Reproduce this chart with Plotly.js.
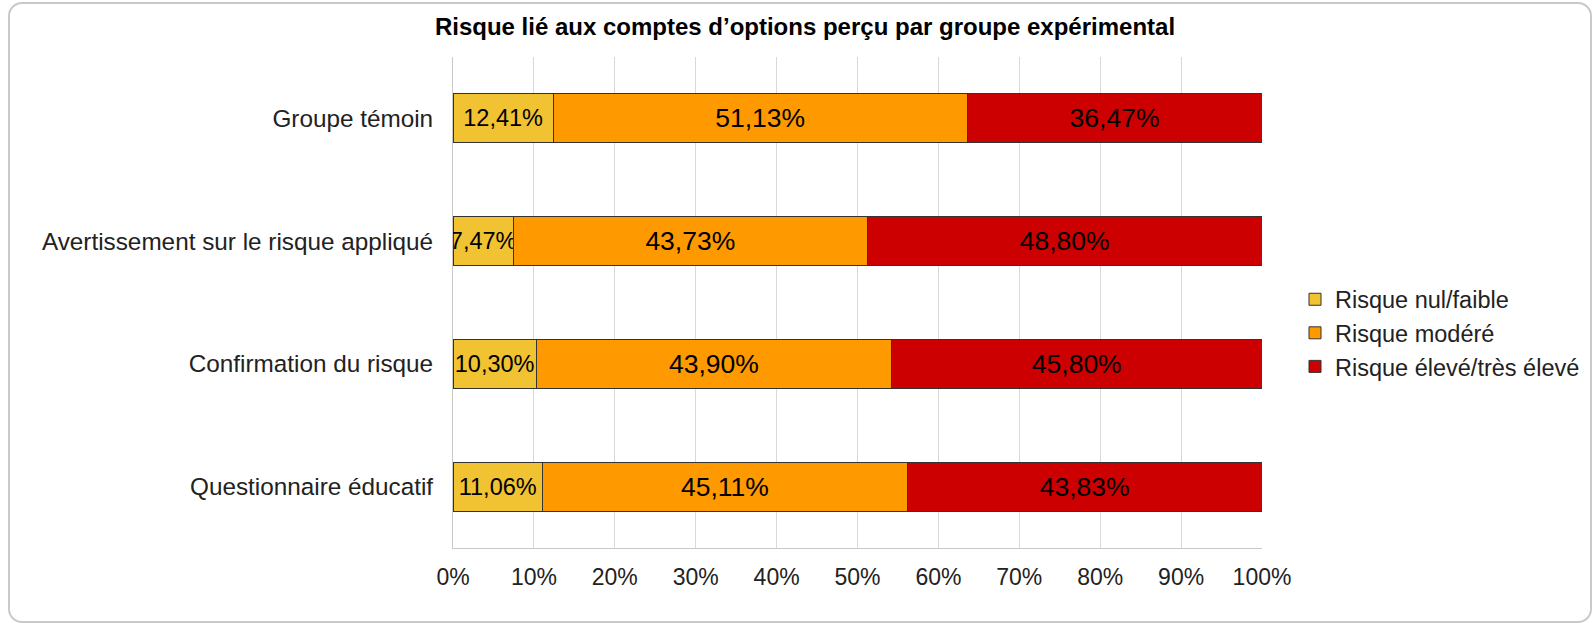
<!DOCTYPE html>
<html>
<head>
<meta charset="utf-8">
<script src="https://cdn.plot.ly/plotly-3.0.1.min.js"></script>
<style>
	body { margin: 0; background: #fff; }
	#wrap { position: relative; width: 1594px; height: 623px; }
	#chart { width: 1594px; height: 623px; }
	#frame {
		position: absolute; left: 8px; top: 2px; width: 1580px; height: 617px;
		border: 2px solid #c9c9c9; border-radius: 14px; pointer-events: none;
	}
</style>
</head>
<body>
<div id="wrap">
	<div id="chart"></div>
	<div id="frame"></div>
</div>
<script>
const groups = [
	"Groupe témoin",
	"Avertissement sur le risque appliqué",
	"Confirmation du risque",
	"Questionnaire éducatif"
];
const seriesNames = ["Risque nul/faible", "Risque modéré", "Risque élevé/très élevé"];
const lowRisk = [12.41, 7.47, 10.30, 11.06];
const moderateRisk = [51.13, 43.73, 43.90, 45.11];
const highRisk = [36.47, 48.80, 45.80, 43.83];
const xTickVals = [0, 10, 20, 30, 40, 50, 60, 70, 80, 90, 100];

const colors = ["#f1c232", "#ff9900", "#cc0000"];
const labelSizes = [23.5, 26.5, 26.5];
const font = "Liberation Sans, Arial, sans-serif";

function pct(v) {
	return v.toFixed(2).replace(".", ",") + "%";
}

const data = [lowRisk, moderateRisk, highRisk].map((vals, i) => {
	return {
		type: "bar",
		orientation: "h",
		name: seriesNames[i],
		legendgroup: "g" + i,
		y: groups,
		x: vals,
		text: vals.map(pct),
		textposition: "inside",
		insidetextanchor: "middle",
		constraintext: "none",
		textangle: 0,
		textfont: { family: font, size: labelSizes[i], color: "#000" },
		marker: {
			color: colors[i],
			line: { color: "#333", width: 1 }
		},
		hoverinfo: "none"
	};
});

const layout = {
	width: 1594,
	height: 623,
	barmode: "stack",
	bargap: 0.6,
	paper_bgcolor: "rgba(0,0,0,0)",
	plot_bgcolor: "#fff",
	font: { family: font, size: 23.5, color: "#000" },
	margin: { l: 453, r: 332, t: 57, b: 75, pad: 0 },
	title: {
		text: "<b>Risque lié aux comptes d’options perçu par groupe expérimental</b>",
		font: { family: font, size: 24, color: "#000" },
		xref: "container",
		x: 0.505,
		xanchor: "center",
		yref: "container",
		y: 0.957,
		yanchor: "middle"
	},
	xaxis: {
		range: [0, 100],
		tickvals: xTickVals,
		ticktext: xTickVals.map(v => v + "%"),
		showgrid: true,
		gridcolor: "#d9d9d9",
		gridwidth: 1,
		showline: true,
		linecolor: "#c8c8c8",
		linewidth: 1,
		zeroline: false,
		ticks: "",
		ticklabelstandoff: 8,
		tickfont: { family: font, size: 23, color: "#222" },
		fixedrange: true
	},
	yaxis: {
		autorange: "reversed",
		showgrid: false,
		showline: true,
		linecolor: "#c8c8c8",
		linewidth: 1,
		zeroline: false,
		ticks: "",
		ticklabelstandoff: 14,
		tickfont: { family: font, size: 24.3, color: "#222" },
		fixedrange: true
	},
	legend: {
		xref: "container",
		x: 1295 / 1594,
		xanchor: "left",
		yref: "container",
		y: 1 - 333 / 623,
		yanchor: "middle",
		traceorder: "normal",
		tracegroupgap: 4,
		font: { family: font, size: 23.5, color: "#222" },
		bgcolor: "rgba(0,0,0,0)"
	},
	showlegend: true
};

Plotly.newPlot("chart", data, layout, { staticPlot: true, displayModeBar: false });
</script>
</body>
</html>
